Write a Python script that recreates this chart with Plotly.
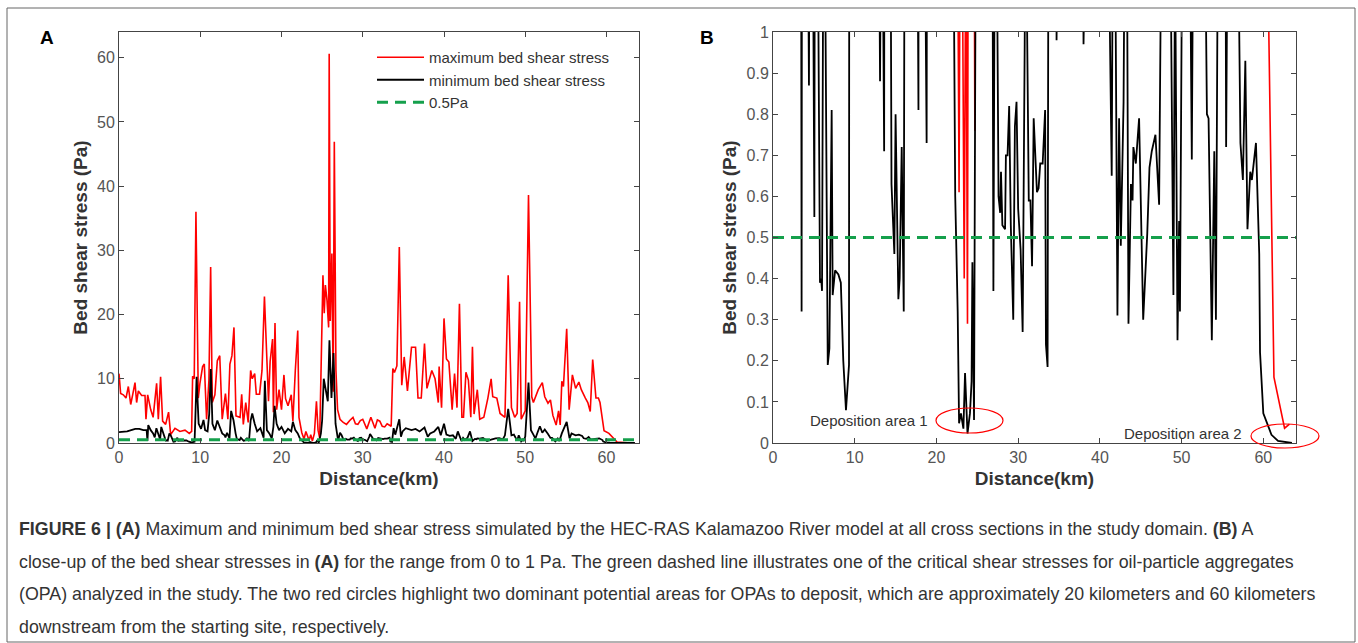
import plotly.graph_objects as go

# distance (km) / max bed shear stress (Pa)
max_km = [0.0, 0.2, 0.53, 0.86, 1.15, 1.44, 1.68, 1.97, 2.17, 2.38, 2.79, 3.2, 3.32, 3.53, 3.9, 4.2,
          4.63, 4.84, 5.12, 5.37, 5.74, 6.1, 6.36, 6.89, 7.5, 8.12, 8.65, 8.94, 9.06, 9.26, 9.47, 9.76,
          9.96, 10.29, 10.5, 10.78, 11.07, 11.28, 11.48, 11.8, 12.1, 12.4, 12.7, 13.1, 13.4, 13.65, 13.9,
          14.15, 14.4, 14.9, 15.1, 15.3, 15.6, 15.9, 16.2, 16.4, 16.7, 16.9, 17.3, 17.6, 17.9, 18.2,
          18.4, 18.6, 18.9, 19.0, 19.2, 19.4, 19.7, 20.0, 20.3, 20.5, 20.8, 21.2, 21.4, 21.7, 22.0,
          22.15, 22.5, 22.77, 23.0, 23.4, 23.6, 23.8, 24.05, 24.3, 24.5, 24.7, 24.85, 25.1, 25.26, 25.4,
          25.6, 25.8, 25.87, 26.0, 26.2, 26.36, 26.5, 26.7, 26.9, 27.2, 27.6, 28.0, 28.4, 28.8, 29.1,
          29.4, 29.7, 30.0, 30.5, 31.0, 31.3, 31.5, 31.8, 32.1, 32.4, 32.7, 33.0, 33.3, 33.5, 33.7,
          33.9, 34.2, 34.5, 34.8, 35.1, 35.5, 36.0, 36.5, 36.8, 37.2, 37.6, 37.9, 38.5, 38.9, 39.3,
          39.4, 39.7, 40.0, 40.3, 40.6, 41.0, 41.3, 41.6, 41.9, 42.2, 42.4, 42.7, 43.0, 43.3, 43.5,
          43.7, 44.1, 44.4, 44.9, 45.4, 45.8, 46.0, 46.5, 46.9, 47.5, 47.9, 48.3, 48.7, 49.0, 49.3,
          49.5, 50.0, 50.4, 50.8, 51.0, 51.6, 52.1, 52.4, 52.8, 53.1, 53.4, 53.8, 54.1, 54.3, 54.5,
          54.7, 55.1, 55.4, 55.8, 56.2, 56.6, 56.9, 57.4, 57.7, 58.0, 58.3, 58.7, 59.0, 59.2, 59.7,
          60.3, 61.3, 62.6, 63.2]
max_pa = [10.8, 7.7, 7.5, 7.0, 8.8, 6.0, 7.5, 9.4, 6.3, 8.1, 7.4, 7.4, 3.7, 7.5, 5.2, 4.0,
          9.3, 3.7, 10.3, 3.4, 2.9, 4.8, 1.3, 2.3, 1.8, 2.0, 1.5, 1.8, 10.4, 10.0, 36.0, 7.0,
          9.3, 11.9, 12.3, 3.7, 9.8, 27.4, 6.3, 7.5, 12.8, 13.6, 3.7, 7.7, 3.7, 12.3, 13.6,
          18.0, 4.2, 4.0, 7.6, 2.9, 6.3, 3.2, 11.3, 10.0, 10.8, 7.6, 7.6, 11.3, 22.8, 11.9,
          6.5, 12.7, 16.2, 4.8, 18.7, 5.2, 8.3, 5.2, 10.6, 6.9, 5.8, 7.5, 3.4, 11.3, 17.5,
          4.0, 1.6, 0.61, 1.8, 0.40, 1.3, 0.29, 1.5, 6.5, 2.0, 0.76, 12.3, 26.1, 20.2, 24.6,
          22.2, 18.0, 60.6, 19.0, 29.5, 8.0, 46.9, 11.3, 5.2, 3.7, 3.2, 2.9, 3.5, 4.0, 3.0,
          2.9, 3.5, 3.7, 2.2, 4.0, 3.0, 2.3, 3.6, 3.4, 2.6, 2.5, 3.0, 2.7, 2.6, 11.6,
          11.0, 12.0, 30.5, 9.0, 13.4, 8.1, 14.9, 14.9, 7.0, 7.0, 15.5, 8.5, 11.3, 10.0, 6.3,
          11.9, 5.5, 19.4, 13.1, 12.6, 5.2, 10.8, 5.5, 21.7, 4.0, 4.0, 11.0, 9.8, 4.0, 15.0,
          4.5, 8.3, 3.7, 4.0, 7.0, 10.0, 7.2, 7.0, 4.6, 4.0, 26.1, 5.5, 4.0, 4.6, 22.0,
          3.7, 5.0, 38.6, 7.2, 6.3, 8.3, 9.4, 7.2, 6.2, 6.7, 4.3, 2.8, 5.0, 2.8, 9.6,
          8.8, 17.8, 5.2, 10.6, 8.5, 9.5, 8.3, 7.0, 6.3, 4.9, 13.0, 7.0, 7.0, 6.3, 1.9,
          1.5, 0.16, 0.036, 0.046]

# distance (km) / min bed shear stress (Pa)
min_km = [0.0, 0.5, 1.0, 1.5, 2.0, 2.5, 3.0, 3.4, 3.5, 3.6, 3.9, 4.2, 4.4, 4.6, 4.9, 5.06, 5.2,
          5.5, 5.75, 5.9, 6.0, 6.2, 6.4, 6.7, 6.9, 7.18, 7.3, 7.6, 8.0, 8.3, 8.6, 8.93, 9.2, 9.3,
          9.4, 9.55, 9.8, 10.1, 10.4, 10.6, 10.9, 11.1, 11.3, 11.5, 11.8, 12.1, 12.4, 12.7, 13.0,
          13.1, 13.3, 13.6, 13.8, 14.1, 14.35, 14.5, 14.85, 15.0, 15.34, 15.5, 15.75, 16.0, 16.2,
          16.4, 16.7, 17.0, 17.4, 17.8, 17.95, 18.2, 18.5, 18.8, 19.0, 19.15, 19.4, 19.7, 20.0,
          20.4, 20.8, 21.2, 21.4, 21.7, 22.0, 22.3, 22.6, 22.77, 23.0, 23.3, 23.5, 23.8, 24.1,
          24.3, 24.4, 24.6, 24.85, 25.0, 25.2, 25.5, 25.7, 25.9, 26.15, 26.4, 26.65, 26.97, 27.2,
          27.4, 27.6, 27.8, 27.9, 28.07, 28.4, 28.5, 28.7, 28.9, 29.1, 29.4, 29.6, 29.8, 30.0,
          30.3, 30.55, 30.8, 30.9, 31.1, 31.3, 31.5, 31.7, 31.9, 32.3, 32.5, 32.7, 33.0, 33.3,
          33.4, 33.6, 33.8, 34.0, 34.5, 34.7, 34.9, 35.3, 36.0, 36.5, 37.0, 37.6, 38.0, 38.3,
          38.8, 39.3, 39.6, 40.0, 40.3, 40.7, 41.1, 41.45, 41.7, 42.15, 42.35, 42.56, 42.9, 43.2,
          43.5, 43.8, 44.0, 44.1, 44.4, 44.8, 45.3, 45.8, 46.07, 46.35, 46.8, 47.25, 47.5, 47.9,
          48.3, 48.6, 49.0, 49.2, 49.5, 49.7, 49.8, 50.0, 50.4, 50.7, 51.0, 51.25, 51.5, 51.8,
          52.1, 52.4, 52.8, 53.1, 53.3, 53.7, 54.0, 54.2, 54.5, 55.1, 55.45, 55.7, 56.2, 56.6,
          57.0, 57.2, 57.5, 57.8, 58.06, 58.4, 58.6, 59.1, 59.5, 59.6, 60.0, 60.4, 61.0, 61.8,
          63.5]
min_pa = [1.7, 1.7, 1.8, 2.0, 2.2, 2.2, 2.0, 2.0, 0.32, 2.8, 2.0, 1.5, 0.87, 2.3, 1.2, 0.55, 2.5,
          1.2, 0.39, 0.40, 0.37, 1.5, 1.1, 0.19, 0.23, 0.81, 0.36, 0.42, 0.41, 0.39, 0.2, 0.08, 0.17, 0.19,
          4.0, 10.3, 3.0, 2.2, 3.6, 2.0, 1.8, 4.5, 11.5, 3.0, 2.0, 3.5, 2.5, 1.5, 1.2,
          0.88, 1.6, 0.71, 5.0, 3.5, 1.5, 0.63, 0.46, 0.80, 0.35, 0.40, 0.72, 0.32, 3.5,
          4.6, 3.0, 1.8, 2.3, 0.81, 9.7, 2.0, 1.5, 0.73, 2.5, 5.8, 3.0, 2.0, 2.5,
          1.5, 2.2, 1.8, 3.3, 2.0, 1.5, 0.6, 0.32, 0.048, 0.072, 0.035, 0.17, 0.023, 0.072,
          0.15, 0.44, 0.056, 1.5, 3.5, 10.0, 7.5, 6.5, 16.0, 7.0, 14.0, 3.0, 0.37, 1.6,
          1.2, 0.60, 0.56, 0.66, 0.53, 0.52, 0.70, 0.70, 0.82, 0.53, 0.30, 0.77, 0.83, 0.57,
          0.47, 0.27, 0.97, 1.4, 1.0, 0.59, 0.59, 0.43, 0.79, 0.61, 0.62, 0.68, 0.68, 0.81,
          0.24, 0.185, 2.3, 1.3, 3.7, 0.98, 1.8, 2.3, 2.0, 2.2, 1.8, 2.4, 0.97, 1.5,
          1.8, 2.5, 1.2, 3.0, 1.3, 1.1, 1.2, 0.65, 1.8, 0.31, 0.79, 0.48, 0.83, 1.8,
          0.29, 0.63, 0.59, 0.72, 0.68, 0.79, 0.30, 0.51, 0.67, 0.71, 0.75, 0.58, 1.2, 5.3,
          1.2, 1.3, 0.36, 1.2, 0.25, 0.54, 0.32, 1.0, 9.4, 2.0, 1.3, 0.69, 1.6, 2.6,
          1.6, 2.1, 1.4, 0.80, 0.79, 0.25, 0.71, 0.30, 1.5, 3.3, 0.72, 1.5, 1.2, 1.3,
          1.1, 0.73, 0.64, 0.93, 0.52, 0.66, 0.64, 0.73, 0.46, 0.22, 0.072, 0.05, 0.02, 0.005,
          0.0]

threshold_km = [0, 64]
threshold_pa = [0.5, 0.5]

ticks_a = [0, 10, 20, 30, 40, 50, 60]
ticks_b = [0, 0.1, 0.2, 0.3, 0.4, 0.5, 0.6, 0.7, 0.8, 0.9, 1]
ticks_b_text = ["0", "0.1", "0.2", "0.3", "0.4", "0.5", "0.6", "0.7", "0.8", "0.9", "1"]

caption = [
    "<b>FIGURE 6 | (A)</b> Maximum and minimum bed shear stress simulated by the HEC-RAS Kalamazoo River model at all cross sections in the study domain. <b>(B)</b> A",
    "close-up of the bed shear stresses in <b>(A)</b> for the range from 0 to 1 Pa. The green dashed line illustrates one of the critical shear stresses for oil-particle aggregates",
    "(OPA) analyzed in the study. The two red circles highlight two dominant potential areas for OPAs to deposit, which are approximately 20 kilometers and 60 kilometers",
    "downstream from the starting site, respectively.",
]

W, H = 1358, 643
RED = "#ff0000"
GREEN = "#15a04c"
FONT = "Liberation Sans, Arial, sans-serif"

fig = go.Figure()
for xa, ya, show in [("x", "y", True), ("x2", "y2", False)]:
    fig.add_trace(go.Scatter(x=max_km, y=max_pa, mode="lines", name="maximum bed shear stress",
                             line=dict(color=RED, width=1.6), xaxis=xa, yaxis=ya, showlegend=show))
    fig.add_trace(go.Scatter(x=min_km, y=min_pa, mode="lines", name="minimum bed shear stress",
                             line=dict(color="black", width=1.8), xaxis=xa, yaxis=ya, showlegend=show))
    fig.add_trace(go.Scatter(x=threshold_km, y=threshold_pa, mode="lines", name="0.5Pa",
                             line=dict(color=GREEN, width=3, dash="11px,7px"), xaxis=xa, yaxis=ya,
                             showlegend=show))

ax = dict(showline=True, linecolor="#444", linewidth=1, mirror="ticks", ticks="inside", ticklen=5,
          tickcolor="#444", showgrid=False, zeroline=False, automargin=False,
          tickfont=dict(family=FONT, size=16, color="#555"))
title_font = dict(family=FONT, size=19, color="#333")

dom_y = [1 - 443 / H, 1 - 32 / H]
fig.update_layout(
    width=W, height=H, autosize=False, margin=dict(l=0, r=0, t=0, b=0, pad=0),
    paper_bgcolor="white", plot_bgcolor="white",
    xaxis=dict(ax, domain=[119 / W, 639 / W], range=[0, 64], tickvals=ticks_a, anchor="y",
               title=dict(text="<b>Distance(km)</b>", font=title_font, standoff=6)),
    yaxis=dict(ax, domain=dom_y, range=[0, 64], tickvals=ticks_a, anchor="x",
               title=dict(text="<b>Bed shear stress (Pa)</b>", font=title_font, standoff=4)),
    xaxis2=dict(ax, domain=[773 / W, 1296 / W], range=[0, 64], tickvals=ticks_a, anchor="y2",
                title=dict(text="<b>Distance(km)</b>", font=title_font, standoff=6)),
    yaxis2=dict(ax, domain=dom_y, range=[0, 1], tickvals=ticks_b, ticktext=ticks_b_text, anchor="x2",
                title=dict(text="<b>Bed shear stress (Pa)</b>", font=title_font, standoff=4)),
    legend=dict(x=372 / W, y=1 - 41 / H, xanchor="left", yanchor="top", bgcolor="rgba(0,0,0,0)",
                font=dict(family=FONT, size=15, color="#333"), itemwidth=47, tracegroupgap=0),
    showlegend=True,
)

# panel letters
fig.add_annotation(x=47 / W, y=1 - 38 / H, xref="paper", yref="paper", text="<b>A</b>", showarrow=False,
                   font=dict(family=FONT, size=19, color="black"), xanchor="center", yanchor="middle")
fig.add_annotation(x=707 / W, y=1 - 38 / H, xref="paper", yref="paper", text="<b>B</b>", showarrow=False,
                   font=dict(family=FONT, size=19, color="black"), xanchor="center", yanchor="middle")

# deposition areas
fig.add_annotation(x=930 / W, y=1 - 421 / H, xref="paper", yref="paper", text="Deposition area 1",
                   showarrow=False, xanchor="right", yanchor="middle",
                   font=dict(family=FONT, size=15, color="#333"))
fig.add_annotation(x=1244 / W, y=1 - 433 / H, xref="paper", yref="paper", text="Deposition area 2",
                   showarrow=False, xanchor="right", yanchor="middle",
                   font=dict(family=FONT, size=15, color="#333"))
fig.add_shape(type="circle", xref="paper", yref="paper", x0=936 / W, x1=1003 / W,
              y0=1 - 433 / H, y1=1 - 408 / H, line=dict(color=RED, width=1.2))
fig.add_shape(type="circle", xref="paper", yref="paper", x0=1251 / W, x1=1319 / W,
              y0=1 - 448 / H, y1=1 - 424 / H, line=dict(color=RED, width=1.2))

# outer frame
fig.add_shape(type="rect", xref="paper", yref="paper", x0=7 / W, x1=1355 / W, y0=1 - 642 / H, y1=1 - 8 / H,
              line=dict(color="#666", width=1))

# caption
for i, line in enumerate(caption):
    fig.add_annotation(x=17 / W, y=1 - (529 + 32.7 * i) / H, xref="paper", yref="paper", text=line,
                       showarrow=False, xanchor="left", yanchor="middle", align="left",
                       font=dict(family=FONT, size=17.8, color="#333"))

fig.write_html("out.html", config={"displayModeBar": False},
               post_script="document.body.style.margin='0';document.body.style.overflow='hidden';")
